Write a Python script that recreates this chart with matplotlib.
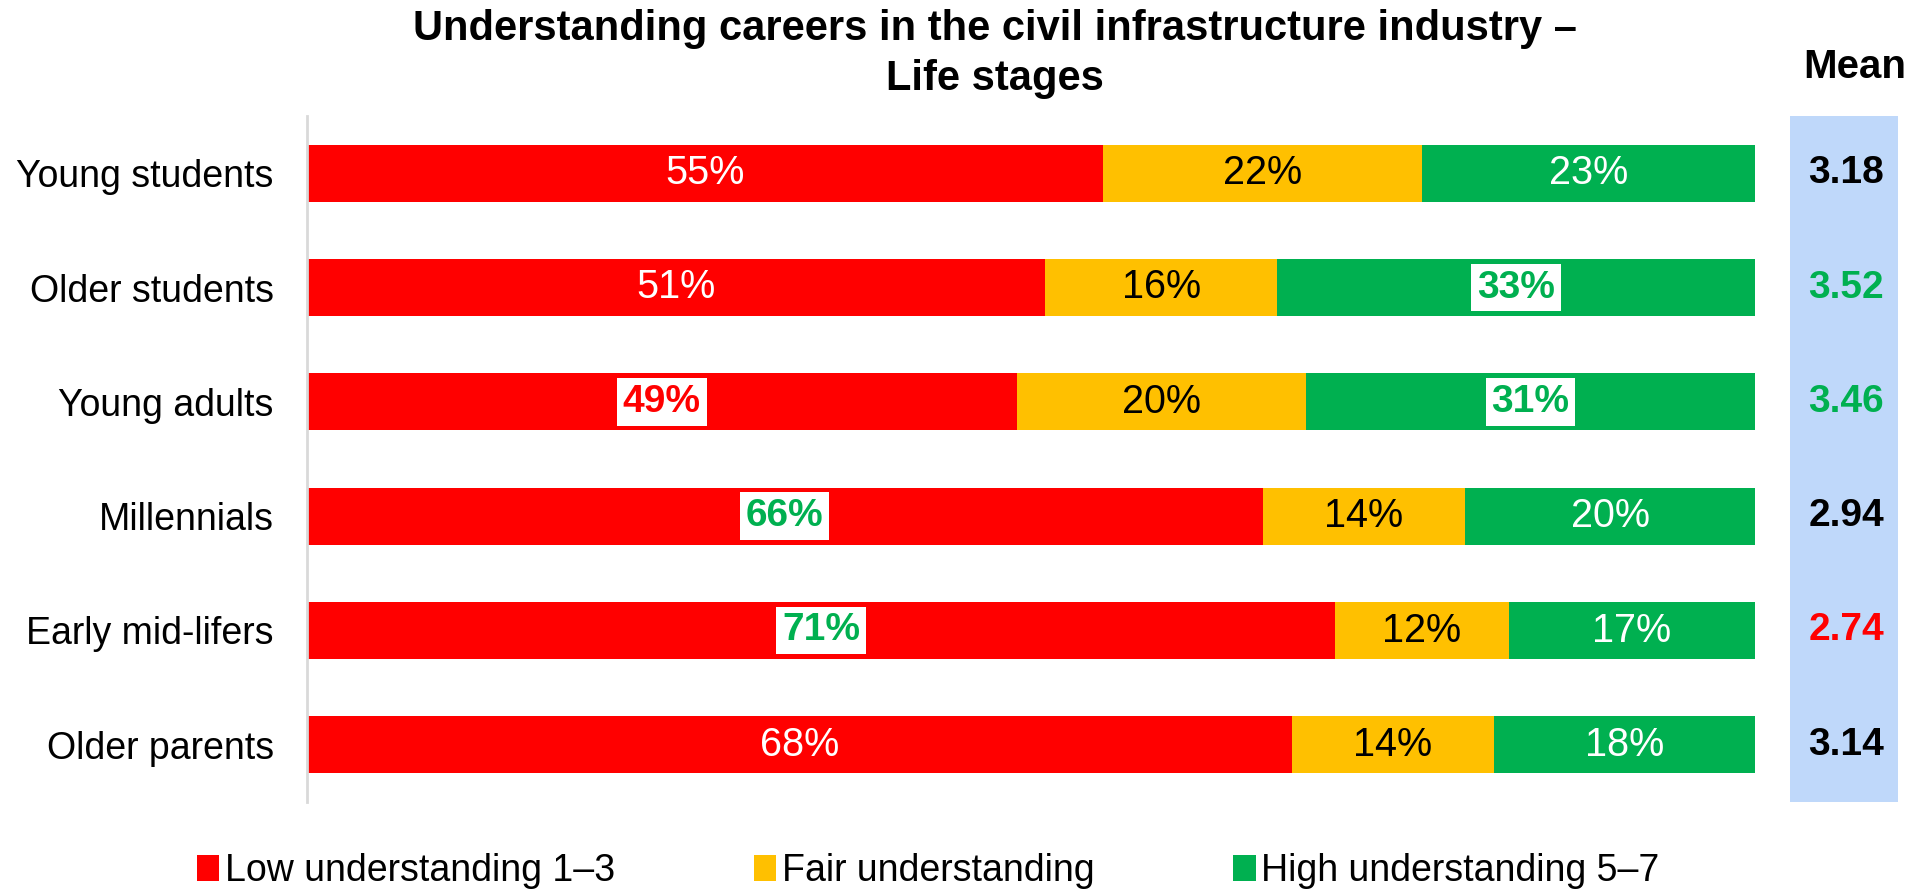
import matplotlib
matplotlib.use("Agg")
from matplotlib import pyplot as plt
import numpy as np

plt.rcParams['font.family'] = ['Liberation Sans', 'DejaVu Sans']

# survey data
groups = ["Young students", "Older students", "Young adults",
          "Millennials", "Early mid-lifers", "Older parents"]
low = [55, 51, 49, 66, 71, 68]
fair = [22, 16, 20, 14, 12, 14]
high = [23, 33, 31, 20, 17, 18]
means = [3.18, 3.52, 3.46, 2.94, 2.74, 3.14]
mean_colors = ["black", "#00B050", "#00B050", "black", "#FF0000", "black"]

legend_names = ["Low understanding 1\u20133", "Fair understanding", "High understanding 5\u20137"]

# labels shown bold on a white box: (row, segment) -> text colour
flagged = {(2, 0): "#FF0000", (3, 0): "#00B050", (4, 0): "#00B050",
           (1, 2): "#00B050", (2, 2): "#00B050"}

RED = "#FF0000"
GOLD = "#FFC000"
GREEN = "#00B050"

W, H = 1921, 889
fig = plt.figure(figsize=(W / 100, H / 100), dpi=100)
ax = fig.add_axes([307 / W, 1 - 802 / H, (1755 - 307) / W, (802 - 116) / H])

y = np.arange(len(groups))
segs = [np.array(low) / 100, np.array(fair) / 100, np.array(high) / 100]
colors = [RED, GOLD, GREEN]
txt_cols = ["white", "black", "white"]
left = np.zeros(len(groups))
handles = []
for k, (vals, col) in enumerate(zip(segs, colors)):
    b = ax.barh(y, vals, left=left, height=0.5, color=col, label=legend_names[k])
    handles.append(b)
    pcts = [low, fair, high][k]
    for i in range(len(groups)):
        cx = left[i] + vals[i] / 2
        if (i, k) in flagged:
            ax.text(cx, y[i], f"{pcts[i]}%", ha="center", va="center",
                    fontsize=28, fontweight="bold", color=flagged[(i, k)],
                    bbox=dict(boxstyle="square,pad=0.15", fc="white", ec="none"))
        else:
            ax.text(cx, y[i], f"{pcts[i]}%", ha="center", va="center",
                    fontsize=28.5, color=txt_cols[k])
    left = left + vals

ax.set_xlim(0, 1)
ax.set_ylim(len(groups) - 0.5, -0.5)
ax.set_yticks(y)
ax.set_yticklabels(groups, fontsize=27)
ax.tick_params(axis="y", length=0, pad=24)
ax.set_xticks([])
for s in ["top", "right", "bottom"]:
    ax.spines[s].set_visible(False)
ax.spines["left"].set_color("#D9D9D9")
ax.spines["left"].set_linewidth(2)

# mean column
max_ax = fig.add_axes([1790 / W, 1 - 802 / H, (1898 - 1790) / W, (802 - 116) / H])
max_ax.set_facecolor("#BFD8FA")
max_ax.set_ylim(len(groups) - 0.5, -0.5)
max_ax.set_xlim(0, 1)
for i, m in enumerate(means):
    max_ax.text(0.52, y[i], f"{m:.2f}", ha="center", va="center",
                fontsize=28, fontweight="bold", color=mean_colors[i])
max_ax.set_xticks([])
max_ax.set_yticks([])
for s in max_ax.spines.values():
    s.set_visible(False)
fig.text(1855 / W, 1 - 67 / H, "Mean", ha="center", va="center",
         fontsize=29, fontweight="bold")

fig.text(0.518, 1 - 54 / H,
         "Understanding careers in the civil infrastructure industry \u2013\nLife stages",
         ha="center", va="center", fontsize=30, fontweight="bold", linespacing=1.3)

fig.legend(handles=handles, loc="center", bbox_to_anchor=(928 / W, 1 - 871 / H),
           ncol=3, frameon=False, fontsize=27, handlelength=0.6, handleheight=0.7,
           handletextpad=0.15, columnspacing=3.7, borderaxespad=0)

fig.savefig("out.png", dpi=100)
plt.close()
